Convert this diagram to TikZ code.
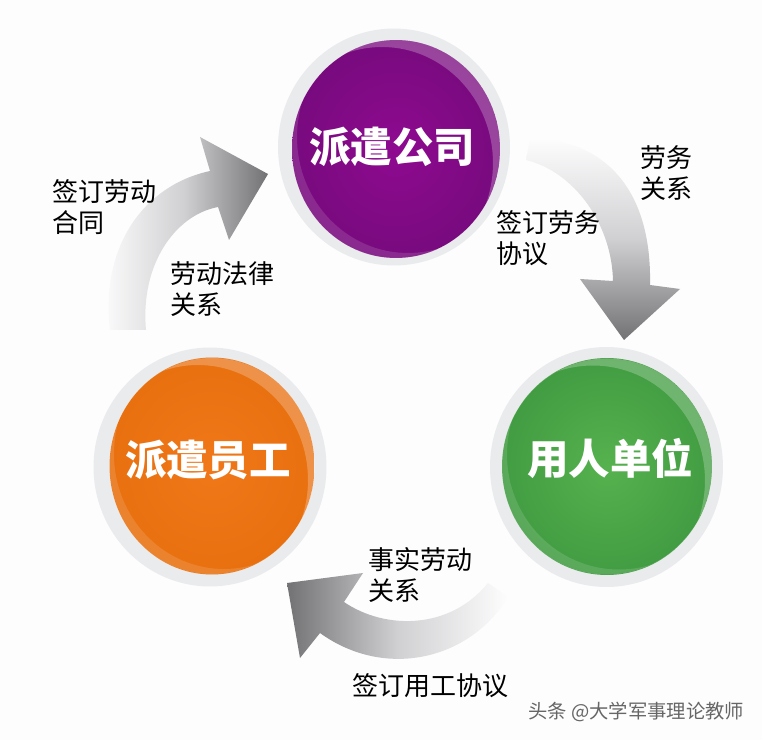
\documentclass[tikz,border=0pt]{standalone}
\usepackage{fontspec}
\usepackage{xcolor}
\usetikzlibrary{shapes.geometric,positioning}
\newfontfamily\cjk{Noto Sans CJK SC}
\definecolor{paper}{HTML}{FDFDFE}
\definecolor{halo}{HTML}{E9EBED}
\definecolor{midgray}{HTML}{D0D0D2}
\definecolor{tipgray}{HTML}{727274}
\definecolor{purplein}{HTML}{8E0A90}
\definecolor{purpleout}{HTML}{780A7E}
\definecolor{greenin}{HTML}{56B24E}
\definecolor{greenout}{HTML}{429C42}
\definecolor{orangein}{HTML}{F07818}
\definecolor{orangeout}{HTML}{E8700F}
\tikzset{
halonode/.style={ellipse,fill=halo,inner sep=0pt,outer sep=0pt},
ballnode/.style n args={2}{ellipse,inner color=#1,outer color=#2,inner sep=0pt,outer sep=0pt},
balltext/.style={inner sep=0pt,text=white,font=\fontsize{23.6}{28}\cjk\bfseries},
lbl/.style={anchor=west,align=left,inner sep=0pt,text=black,font=\fontsize{14.8}{18}\cjk}
}
\newcommand{\ballgloss}[4]{
\begin{scope}
\clip (#1,#2) ellipse (#3 and #4);
\fill[white,opacity=.24,even odd rule] (#1,#2) ellipse (#3 and #4) (#1-14,#2+14) ellipse (#3+7 and #4+7);
\fill[white,opacity=.13,even odd rule] (#1,#2) ellipse (#3 and #4) (#1+12,#2-12) ellipse (#3+7 and #4+7);
\end{scope}}
\begin{document}
\begin{tikzpicture}[x=0.02cm,y=-0.02cm]
\useasboundingbox (0,0) rectangle (762,740);
\fill[paper] (0,0) rectangle (762,740);
\shade[top color=paper,bottom color=tipgray,middle color=midgray] (530,138) .. controls (610,140) and (652,195) .. (650,285) -- (680,289) -- (624,340) -- (580,279) -- (613,281) .. controls (612,225) and (575,172) .. (526,160) -- cycle;
\shade[left color=paper,right color=tipgray,middle color=midgray] (110,330) .. controls (100,245) and (145,185) .. (210,171) -- (200,137) -- (268,174) -- (229,240) -- (218,207) .. controls (175,215) and (140,265) .. (146,330) -- cycle;
\shade[left color=tipgray,right color=paper,middle color=midgray] (508,597) .. controls (470,660) and (385,680) .. (320,633) -- (300,658) -- (287,583) -- (363,573) -- (344,602) .. controls (385,630) and (450,630) .. (488,583) -- cycle;
\node[halonode,minimum width=4.64cm,minimum height=4.74cm] (halogongsi) at (394,147) {};
\node[halonode,minimum width=4.66cm,minimum height=4.8cm] (halodanwei) at (606.5,467) {};
\node[halonode,minimum width=4.66cm,minimum height=4.78cm] (haloyuangong) at (210,467) {};
\node[ballnode={purplein}{purpleout},minimum width=4.16cm,minimum height=4.36cm] (gongsi) at (396,149) {};
\node[ballnode={greenin}{greenout},minimum width=4.2cm,minimum height=4.34cm] (danwei) at (607,466.5) {};
\node[ballnode={orangein}{orangeout},minimum width=4.1cm,minimum height=4.34cm] (yuangong) at (212,466) {};
\ballgloss{396}{149}{104}{109}
\ballgloss{607}{466.5}{105}{108}
\ballgloss{212}{466}{103}{108}
\node[balltext] (gongsitext) at (392,147) {派遣公司};
\node[balltext] (danweitext) at (610,458) {用人单位};
\node[balltext] (yuangongtext) at (208,460) {派遣员工};
\node[lbl] (hetong) at (52,207) {签订劳动\\合同};
\node[lbl] (falv) at (170,289) {劳动法律\\关系};
\node[lbl] (laowu) at (640,173) {劳务\\关系};
\node[lbl] (xieyi) at (496,238) {签订劳务\\协议};
\node[lbl] (shishi) at (368,575) {事实劳动\\关系};
\node[lbl] (yonggong) at (352,686) {签订用工协议};
\node[lbl,text=black!60,font=\fontsize{11}{14}\cjk] (shuiyin) at (528,712) {头条 @大学军事理论教师};
\end{tikzpicture}
\end{document}
